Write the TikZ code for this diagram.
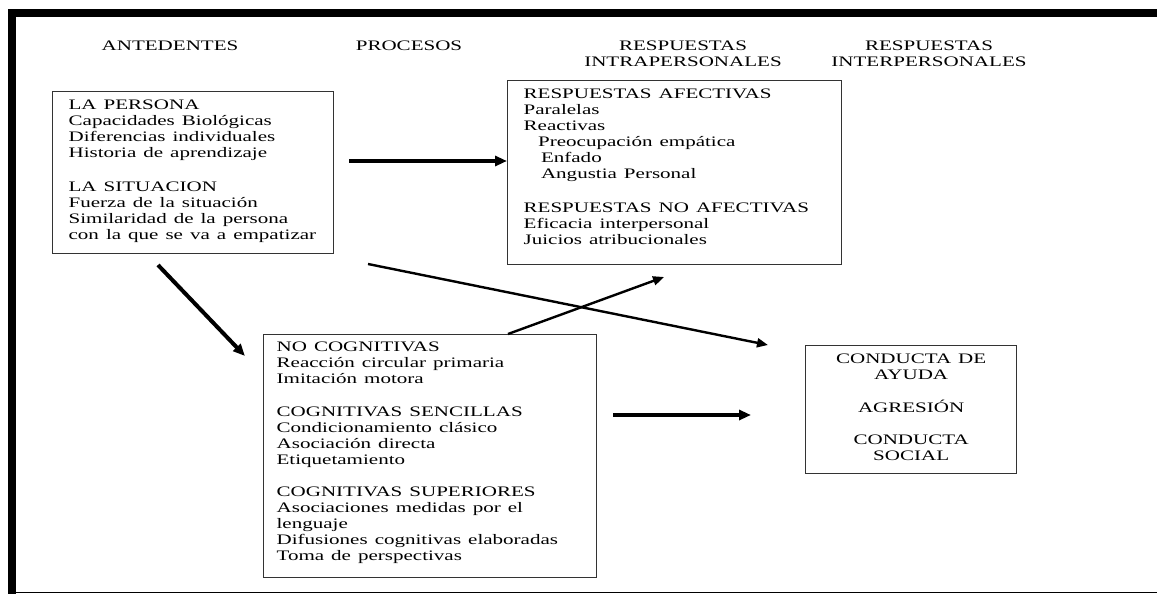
\documentclass[tikz,border=0pt]{standalone}
\usepackage{graphicx}
\usepackage{fontspec}
\setmainfont{Liberation Serif}
\usetikzlibrary{arrows.meta}
% texto ensanchado como en el original
\newcommand{\anchoizq}[1]{\scalebox{1.45}[1]{\begin{tabular}[t]{@{}l@{}}#1\end{tabular}}}
\newcommand{\anchocen}[1]{\scalebox{1.45}[1]{\begin{tabular}[t]{@{}c@{}}#1\end{tabular}}}

\begin{document}
\begin{tikzpicture}[x=1pt,y=-1pt,
  >={Triangle[length=12pt,width=10pt]},
  texto/.style={font=\fontsize{14.5pt}{16pt}\selectfont,inner sep=0pt},
  caja/.style={texto,draw=black!80,line width=1.3pt,anchor=north west,align=left,text height=18pt},
  cabeza/.style={texto,anchor=base,align=center,text width=230pt},
  gruesa/.style={line width=4pt},
  fina/.style={line width=2.4pt,>={Triangle[length=11pt,width=9pt]}}]
\useasboundingbox (0,0) rectangle (1157,594);
\fill[white] (0,0) rectangle (1157,594);
\fill[black] (8,9) rectangle (1157,17);
\fill[black] (8,9) rectangle (16,594);
\draw[line width=1.2pt] (8,592.6) -- (1157,592.6);
\node[cabeza] (antecedentes) at (170,51) {\anchocen{ANTEDENTES}};
\node[cabeza] (procesos) at (409,51) {\anchocen{PROCESOS}};
\node[cabeza] (intra) at (683,51) {\anchocen{RESPUESTAS\\INTRAPERSONALES}};
\node[cabeza] (inter) at (929,51) {\anchocen{RESPUESTAS\\INTERPERSONALES}};
\node[caja,inner xsep=16pt,text width=249pt,text depth=144pt] (persona) at (52,91)
  {\anchoizq{LA PERSONA\\Capacidades Biológicas\\Diferencias individuales\\Historia de aprendizaje\\[18pt]
   LA SITUACION\\Fuerza de la situación\\Similaridad de la persona\\con la que se va a empatizar}};
\node[caja,inner xsep=16pt,text width=302pt,text depth=166pt] (afectivas) at (507,80)
  {\anchoizq{RESPUESTAS AFECTIVAS\\Paralelas\\Reactivas\\\hspace*{10pt}Preocupación empática\\\hspace*{12pt}Enfado\\\hspace*{12pt}Angustia Personal\\[18pt]
   RESPUESTAS NO AFECTIVAS\\Eficacia interpersonal\\Juicios atribucionales}};
\node[caja,inner xsep=13pt,text width=307pt,text height=17pt,text depth=226pt] (nocog) at (263,334)
  {\anchoizq{NO COGNITIVAS\\Reacción circular primaria\\Imitación motora\\[17pt]
   COGNITIVAS SENCILLAS\\Condicionamiento clásico\\Asociación directa\\Etiquetamiento\\[16pt]
   COGNITIVAS SUPERIORES\\Asociaciones medidas por el\\lenguaje\\Difusiones cognitivas elaboradas\\Toma de perspectivas}};
\node[caja,align=center,inner xsep=10pt,text width=191pt,text depth=110pt] (conducta) at (805,345)
  {\anchocen{CONDUCTA DE\\AYUDA\\[16pt]AGRESIÓN\\[16pt]CONDUCTA\\SOCIAL}};
\coordinate (h1) at (349,161);
\coordinate (d1) at (158,265);
\coordinate (d1e) at (245,356);
\coordinate (l1) at (368,264);
\coordinate (l1e) at (768,345);
\coordinate (u1e) at (664,277);
\coordinate (h2) at (613,415);
\coordinate (h2e) at (751,415);
\draw[gruesa,->] (h1) -- (h1 -| afectivas.west);
\draw[gruesa,->] (d1) -- (d1e);
\draw[fina,->] (l1) -- (l1e);
\draw[fina,->] (nocog.north -| 508,0) -- (u1e);
\draw[gruesa,line width=3.4pt,->] (h2) -- (h2e);
\end{tikzpicture}
\end{document}
